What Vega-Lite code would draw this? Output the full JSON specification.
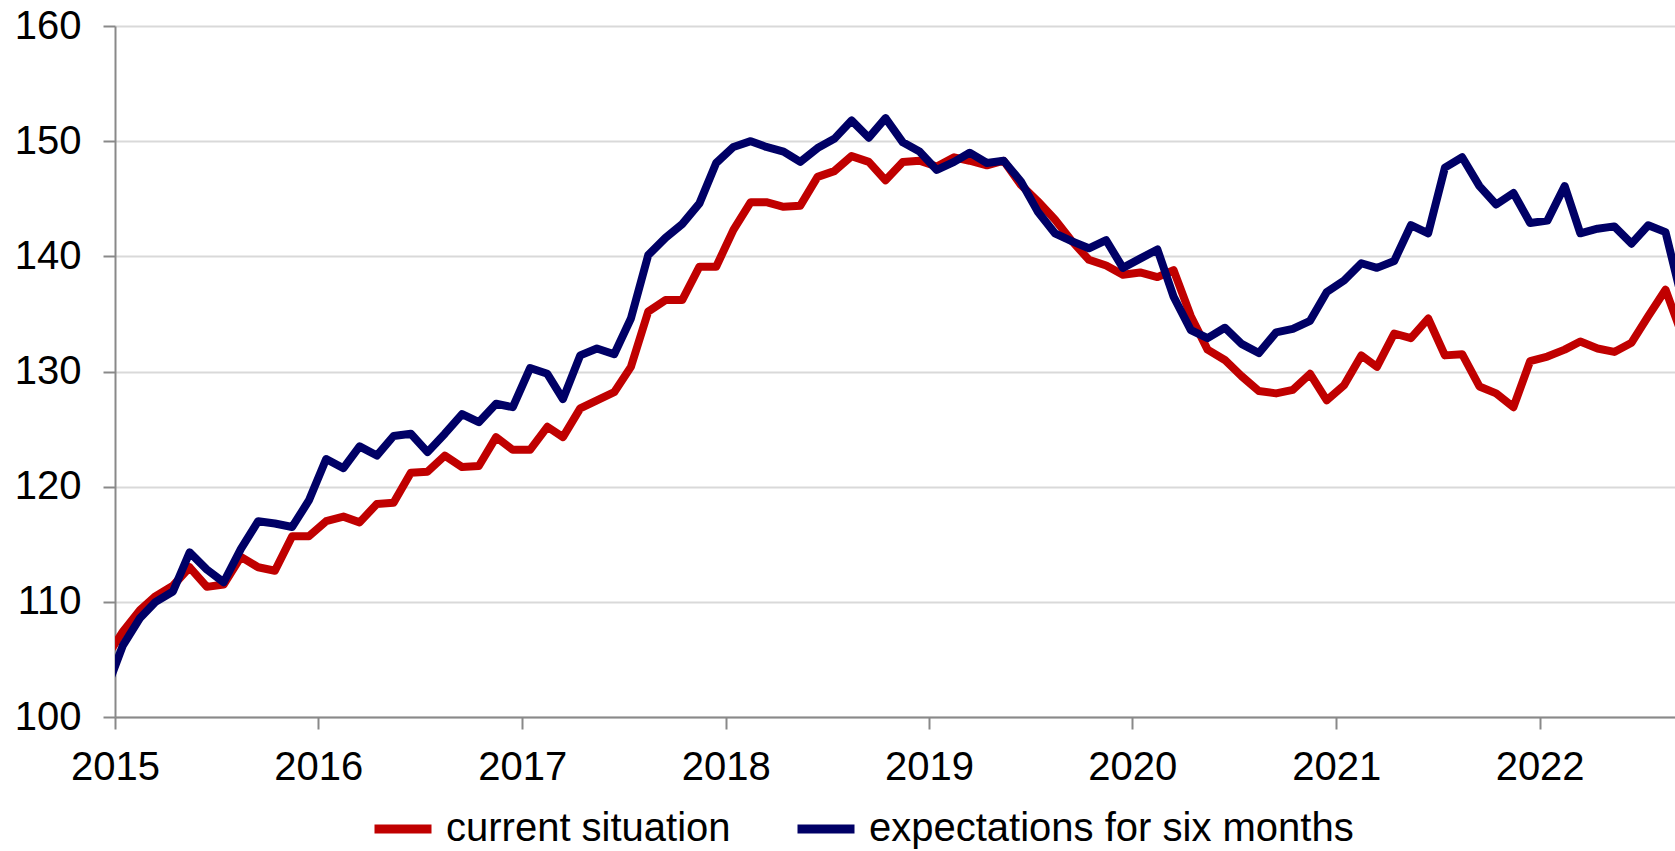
{
  "$schema": "https://vega.github.io/schema/vega-lite/v6.json",
  "width": 1560,
  "height": 691,
  "autosize": {"type": "none"},
  "padding": {"left": 115, "top": 26, "right": 0, "bottom": 134},
  "background": "white",
  "config": {
    "view": {"stroke": null},
    "font": "Liberation Sans",
    "axis": {
      "labelFont": "Liberation Sans",
      "labelFontSize": 40,
      "labelColor": "#000000",
      "domainColor": "#898989",
      "domainWidth": 2,
      "tickColor": "#898989",
      "tickWidth": 2,
      "tickSize": 12,
      "gridColor": "#d9d9d9",
      "gridWidth": 2,
      "title": null
    }
  },
  "data": {
    "values": [
      {"date": "2014-12-15", "current": 105.1, "expectations": 102.2},
      {"date": "2015-01-15", "current": 107.4, "expectations": 106.2},
      {"date": "2015-02-15", "current": 109.3, "expectations": 108.6},
      {"date": "2015-03-15", "current": 110.5, "expectations": 110.0},
      {"date": "2015-04-15", "current": 111.4, "expectations": 110.9},
      {"date": "2015-05-15", "current": 113.0, "expectations": 114.3},
      {"date": "2015-06-15", "current": 111.3, "expectations": 112.8},
      {"date": "2015-07-15", "current": 111.5, "expectations": 111.7},
      {"date": "2015-08-15", "current": 113.9, "expectations": 114.6},
      {"date": "2015-09-15", "current": 113.0, "expectations": 117.0},
      {"date": "2015-10-15", "current": 112.7, "expectations": 116.8},
      {"date": "2015-11-15", "current": 115.7, "expectations": 116.5},
      {"date": "2015-12-15", "current": 115.7, "expectations": 118.8},
      {"date": "2016-01-15", "current": 117.0, "expectations": 122.4},
      {"date": "2016-02-15", "current": 117.4, "expectations": 121.6},
      {"date": "2016-03-15", "current": 116.9, "expectations": 123.5},
      {"date": "2016-04-15", "current": 118.5, "expectations": 122.7},
      {"date": "2016-05-15", "current": 118.6, "expectations": 124.4},
      {"date": "2016-06-15", "current": 121.2, "expectations": 124.6},
      {"date": "2016-07-15", "current": 121.3, "expectations": 123.0},
      {"date": "2016-08-15", "current": 122.7, "expectations": 124.6},
      {"date": "2016-09-15", "current": 121.7, "expectations": 126.3},
      {"date": "2016-10-15", "current": 121.8, "expectations": 125.6},
      {"date": "2016-11-15", "current": 124.3, "expectations": 127.2},
      {"date": "2016-12-15", "current": 123.2, "expectations": 126.9},
      {"date": "2017-01-15", "current": 123.2, "expectations": 130.3},
      {"date": "2017-02-15", "current": 125.2, "expectations": 129.8},
      {"date": "2017-03-15", "current": 124.3, "expectations": 127.6},
      {"date": "2017-04-15", "current": 126.8, "expectations": 131.4},
      {"date": "2017-05-15", "current": 127.5, "expectations": 132.0},
      {"date": "2017-06-15", "current": 128.2, "expectations": 131.5},
      {"date": "2017-07-15", "current": 130.4, "expectations": 134.6},
      {"date": "2017-08-15", "current": 135.2, "expectations": 140.1},
      {"date": "2017-09-15", "current": 136.2, "expectations": 141.6},
      {"date": "2017-10-15", "current": 136.2, "expectations": 142.8},
      {"date": "2017-11-15", "current": 139.1, "expectations": 144.6},
      {"date": "2017-12-15", "current": 139.1, "expectations": 148.1},
      {"date": "2018-01-15", "current": 142.3, "expectations": 149.5},
      {"date": "2018-02-15", "current": 144.7, "expectations": 150.0},
      {"date": "2018-03-15", "current": 144.7, "expectations": 149.5},
      {"date": "2018-04-15", "current": 144.3, "expectations": 149.1},
      {"date": "2018-05-15", "current": 144.4, "expectations": 148.2},
      {"date": "2018-06-15", "current": 146.9, "expectations": 149.4},
      {"date": "2018-07-15", "current": 147.4, "expectations": 150.2},
      {"date": "2018-08-15", "current": 148.7, "expectations": 151.8},
      {"date": "2018-09-15", "current": 148.2, "expectations": 150.3},
      {"date": "2018-10-15", "current": 146.6, "expectations": 152.0},
      {"date": "2018-11-15", "current": 148.2, "expectations": 149.9},
      {"date": "2018-12-15", "current": 148.3, "expectations": 149.1},
      {"date": "2019-01-15", "current": 147.8, "expectations": 147.5},
      {"date": "2019-02-15", "current": 148.6, "expectations": 148.2},
      {"date": "2019-03-15", "current": 148.3, "expectations": 149.0},
      {"date": "2019-04-15", "current": 147.9, "expectations": 148.1},
      {"date": "2019-05-15", "current": 148.3, "expectations": 148.3},
      {"date": "2019-06-15", "current": 146.2, "expectations": 146.5},
      {"date": "2019-07-15", "current": 144.8, "expectations": 143.9},
      {"date": "2019-08-15", "current": 143.2, "expectations": 142.0},
      {"date": "2019-09-15", "current": 141.3, "expectations": 141.3},
      {"date": "2019-10-15", "current": 139.7, "expectations": 140.7},
      {"date": "2019-11-15", "current": 139.2, "expectations": 141.4},
      {"date": "2019-12-15", "current": 138.4, "expectations": 139.0},
      {"date": "2020-01-15", "current": 138.6, "expectations": 139.8},
      {"date": "2020-02-15", "current": 138.2, "expectations": 140.6},
      {"date": "2020-03-15", "current": 138.8, "expectations": 136.5},
      {"date": "2020-04-15", "current": 134.8, "expectations": 133.6},
      {"date": "2020-05-15", "current": 131.9, "expectations": 132.9},
      {"date": "2020-06-15", "current": 131.0, "expectations": 133.8},
      {"date": "2020-07-15", "current": 129.6, "expectations": 132.4},
      {"date": "2020-08-15", "current": 128.3, "expectations": 131.6},
      {"date": "2020-09-15", "current": 128.1, "expectations": 133.4},
      {"date": "2020-10-15", "current": 128.4, "expectations": 133.7},
      {"date": "2020-11-15", "current": 129.8, "expectations": 134.4},
      {"date": "2020-12-15", "current": 127.5, "expectations": 136.9},
      {"date": "2021-01-15", "current": 128.8, "expectations": 137.9},
      {"date": "2021-02-15", "current": 131.4, "expectations": 139.4},
      {"date": "2021-03-15", "current": 130.4, "expectations": 139.0},
      {"date": "2021-04-15", "current": 133.3, "expectations": 139.6},
      {"date": "2021-05-15", "current": 132.9, "expectations": 142.7},
      {"date": "2021-06-15", "current": 134.6, "expectations": 142.0},
      {"date": "2021-07-15", "current": 131.4, "expectations": 147.7},
      {"date": "2021-08-15", "current": 131.5, "expectations": 148.6},
      {"date": "2021-09-15", "current": 128.7, "expectations": 146.1},
      {"date": "2021-10-15", "current": 128.1, "expectations": 144.5},
      {"date": "2021-11-15", "current": 126.9, "expectations": 145.5},
      {"date": "2021-12-15", "current": 130.9, "expectations": 142.9},
      {"date": "2022-01-15", "current": 131.3, "expectations": 143.1},
      {"date": "2022-02-15", "current": 131.9, "expectations": 146.1},
      {"date": "2022-03-15", "current": 132.6, "expectations": 142.0},
      {"date": "2022-04-15", "current": 132.0, "expectations": 142.4},
      {"date": "2022-05-15", "current": 131.7, "expectations": 142.6},
      {"date": "2022-06-15", "current": 132.5, "expectations": 141.1},
      {"date": "2022-07-15", "current": 134.8, "expectations": 142.7},
      {"date": "2022-08-15", "current": 137.1, "expectations": 142.1},
      {"date": "2022-09-15", "current": 133.0, "expectations": 136.0}
    ]
  },
  "encoding": {
    "x": {
      "field": "date",
      "type": "temporal",
      "scale": {
        "type": "utc",
        "domain": [
          {"year": 2015, "month": 1, "date": 1, "utc": true},
          {"year": 2022, "month": 9, "date": 1, "utc": true}
        ]
      },
      "axis": {
        "values": [
          {"year": 2015, "month": 1, "date": 1, "utc": true},
          {"year": 2016, "month": 1, "date": 1, "utc": true},
          {"year": 2017, "month": 1, "date": 1, "utc": true},
          {"year": 2018, "month": 1, "date": 1, "utc": true},
          {"year": 2019, "month": 1, "date": 1, "utc": true},
          {"year": 2020, "month": 1, "date": 1, "utc": true},
          {"year": 2021, "month": 1, "date": 1, "utc": true},
          {"year": 2022, "month": 1, "date": 1, "utc": true}
        ],
        "format": "%Y",
        "grid": false,
        "labelFlush": false,
        "labelOverlap": false,
        "labelPadding": 18,
        "title": null
      }
    }
  },
  "layer": [
    {
      "mark": {"type": "line", "strokeWidth": 8, "clip": true, "strokeJoin": "round", "strokeCap": "round"},
      "encoding": {
        "y": {
          "field": "current",
          "type": "quantitative",
          "scale": {"domain": [100, 160], "nice": false, "zero": false},
          "axis": {
            "values": [100, 110, 120, 130, 140, 150, 160],
            "grid": true,
            "labelPadding": 22,
            "title": null
          }
        },
        "color": {
          "datum": "current situation",
          "type": "nominal",
          "scale": {
            "domain": ["current situation", "expectations for six months"],
            "range": ["#C00000", "#000066"]
          },
          "legend": {
            "title": null,
            "orient": "none",
            "legendX": 255,
            "legendY": 770,
            "direction": "horizontal",
            "symbolType": "stroke",
            "symbolStrokeWidth": 9,
            "symbolSize": 3249,
            "labelFont": "Liberation Sans",
            "labelFontSize": 40,
            "labelColor": "#000000",
            "labelOffset": 10,
            "labelLimit": 1000,
            "columnPadding": 48,
            "padding": 0
          }
        }
      }
    },
    {
      "mark": {"type": "line", "strokeWidth": 8, "clip": true, "strokeJoin": "round", "strokeCap": "round"},
      "encoding": {
        "y": {"field": "expectations", "type": "quantitative"},
        "color": {"datum": "expectations for six months", "type": "nominal"}
      }
    }
  ]
}
